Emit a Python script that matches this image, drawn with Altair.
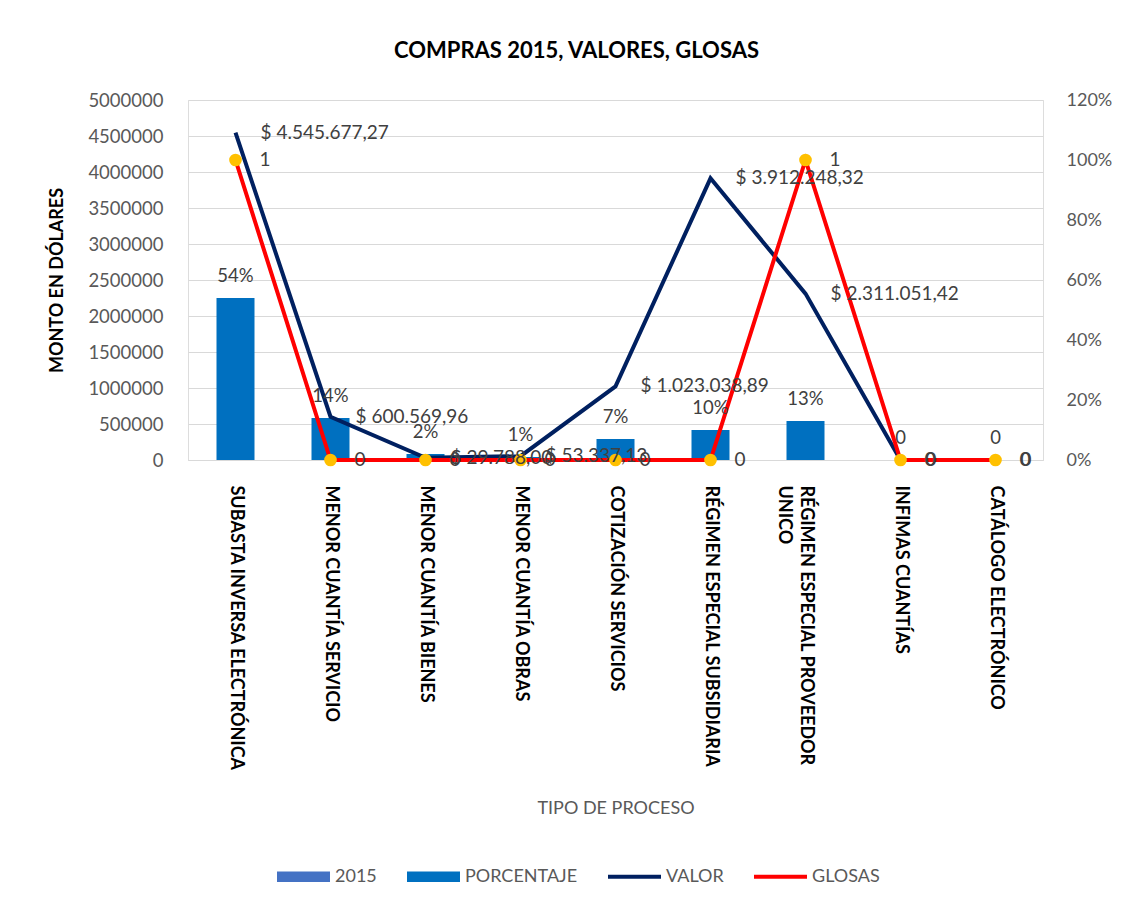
import altair as alt
import pandas as pd

# ---------------- data ----------------
categories = [
    "SUBASTA INVERSA ELECTRÓNICA",
    "MENOR CUANTÍA SERVICIO",
    "MENOR CUANTÍA BIENES",
    "MENOR CUANTÍA OBRAS",
    "COTIZACIÓN SERVICIOS",
    "RÉGIMEN ESPECIAL SUBSIDIARIA",
    "RÉGIMEN ESPECIAL PROVEEDOR UNICO",
    "INFIMAS CUANTÍAS",
    "CATÁLOGO ELECTRÓNICO",
]
porcentaje = [0.54, 0.14, 0.02, 0.01, 0.07, 0.10, 0.13, 0.0, 0.0]
valor = [4545677.27, 600569.96, 29788.00, 53337.13, 1023038.89, 3912248.32, 2311051.42, 0.0, 0.0]
glosas = [1, 0, 0, 0, 0, 0, 1, 0, 0]

series = ["2015", "PORCENTAJE", "VALOR", "GLOSAS"]
series_colors = ["#4472C4", "#0070C0", "#002060", "#FF0000"]
RECT = "M-1,-0.2H1V0.2H-1Z"
LINE = "M-1,-0.08H1V0.08H-1Z"
series_shapes = [RECT, RECT, LINE, LINE]

left_ticks = [0, 500000, 1000000, 1500000, 2000000, 2500000, 3000000, 3500000, 4000000, 4500000, 5000000]
right_ticks = [0, 0.2, 0.4, 0.6, 0.8, 1.0, 1.2]


def fmt_money(v):
    if v == 0:
        return "0"
    s = f"{v:,.2f}".replace(",", "X").replace(".", ",").replace("X", ".")
    return "$ " + s


def fmt_pct(v):
    return "0" if v == 0 else f"{round(v * 100)}%"


df = pd.DataFrame({
    "cat": categories,
    "pct": porcentaje,
    "valor": valor,
    "glosas": glosas,
    "pct_lbl": [fmt_pct(v) for v in porcentaje],
    "valor_lbl": [fmt_money(v) for v in valor],
    "glosas_lbl": [str(v) for v in glosas],
})
legend_df = pd.DataFrame({"serie": series})

FONT = "Lato"
GRAY = "#595959"
LBL = "#404040"

x_enc = alt.X(
    "cat:N",
    sort=categories,
    scale=alt.Scale(paddingInner=0, paddingOuter=0),
    axis=alt.Axis(
        title="TIPO DE PROCESO",
        titleFont=FONT, titleFontSize=18, titleFontWeight="normal", titleColor=GRAY,
        titleY=348, titleBaseline="middle",
        labelAngle=90, labelAlign="left", labelBaseline="middle",
        labelFont=FONT, labelFontSize=18, labelFontWeight="bold", labelColor="#000000",
        labelPadding=25, labelLimit=500, labelLineHeight=22,
        labelExpr="datum.label == 'RÉGIMEN ESPECIAL PROVEEDOR UNICO' ? ['RÉGIMEN ESPECIAL PROVEEDOR', 'UNICO'] : datum.label",
        ticks=False, domainColor="#D9D9D9", domainWidth=1,
    ),
)

pct_scale = alt.Scale(domain=[0, 1.2], nice=False, zero=True)
val_scale = alt.Scale(domain=[0, 5000000], nice=False, zero=True)

legend = alt.Legend(
    title=None, orient="none", legendX=89, legendY=750, direction="horizontal",
    labelFont=FONT, labelFontSize=18, labelColor=GRAY, labelOffset=5,
    symbolSize=2809, columnPadding=30, padding=0, symbolStrokeWidth=0, symbolOpacity=1,
)

base = alt.Chart(df).encode(x=x_enc)

bars = base.mark_bar(size=38, color="#0070C0").encode(
    y=alt.Y("pct:Q", scale=pct_scale, axis=alt.Axis(
        orient="right", values=right_ticks, format=".0%", grid=False, ticks=False,
        domain=False, labelPadding=23, labelFont=FONT, labelFontSize=18, labelColor=GRAY,
        title=None)),
)

valor_line = base.mark_line(strokeWidth=4, color="#002060").encode(
    y=alt.Y("valor:Q", scale=val_scale, axis=alt.Axis(
        orient="left", values=left_ticks, format="d", grid=True, gridColor="#D9D9D9",
        gridWidth=1, ticks=False, domain=False, labelPadding=25,
        labelFont=FONT, labelFontSize=18.5, labelColor=GRAY,
        title="MONTO EN DÓLARES", titleFont=FONT, titleFontSize=18, titleFontWeight="bold",
        titleColor="#000000", titleX=-131, titleY=180, titleAngle=-90,
        titleAlign="center", titleBaseline="middle")),
)

glosas_line = base.mark_line(strokeWidth=4, color="#FF0000").encode(
    y=alt.Y("glosas:Q", scale=pct_scale, axis=None),
)

glosas_pts = base.mark_circle(size=160, color="#FFC000", opacity=1).encode(
    y=alt.Y("glosas:Q", scale=pct_scale, axis=None),
)

pct_text = base.mark_text(font=FONT, fontSize=18.5, color=LBL, baseline="middle", dy=-22).encode(
    y=alt.Y("pct:Q", scale=pct_scale, axis=None),
    text="pct_lbl:N",
)

valor_text = base.mark_text(font=FONT, fontSize=19, color=LBL, align="left", baseline="middle", dx=25).encode(
    y=alt.Y("valor:Q", scale=val_scale, axis=None),
    text="valor_lbl:N",
)

glosas_text = base.mark_text(font=FONT, fontSize=19, color=LBL, align="left", baseline="middle", dx=24).encode(
    y=alt.Y("glosas:Q", scale=pct_scale, axis=None),
    text="glosas_lbl:N",
)

legend_layer = alt.Chart(legend_df).transform_filter("false").mark_point(filled=True, opacity=1).encode(
    color=alt.Color("serie:N", scale=alt.Scale(domain=series, range=series_colors), legend=legend),
    shape=alt.Shape("serie:N", scale=alt.Scale(domain=series, range=series_shapes), legend=legend),
)

chart = alt.layer(
    bars, valor_line, glosas_line, glosas_pts, pct_text, valor_text, glosas_text, legend_layer
).resolve_scale(y="independent").properties(
    width=855,
    height=360,
    title=alt.Title("COMPRAS 2015, VALORES, GLOSAS", font=FONT, fontSize=22, fontWeight="bold",
                    color="#000000", anchor="middle", frame="group", dx=-39, offset=28),
    autosize=alt.AutoSizeParams(type="none"),
    padding={"left": 180, "top": 92, "right": 80, "bottom": 435},
).configure_view(stroke=None).configure(font=FONT)

chart.save("out.html", embed_options={"renderer": "svg", "actions": False})
